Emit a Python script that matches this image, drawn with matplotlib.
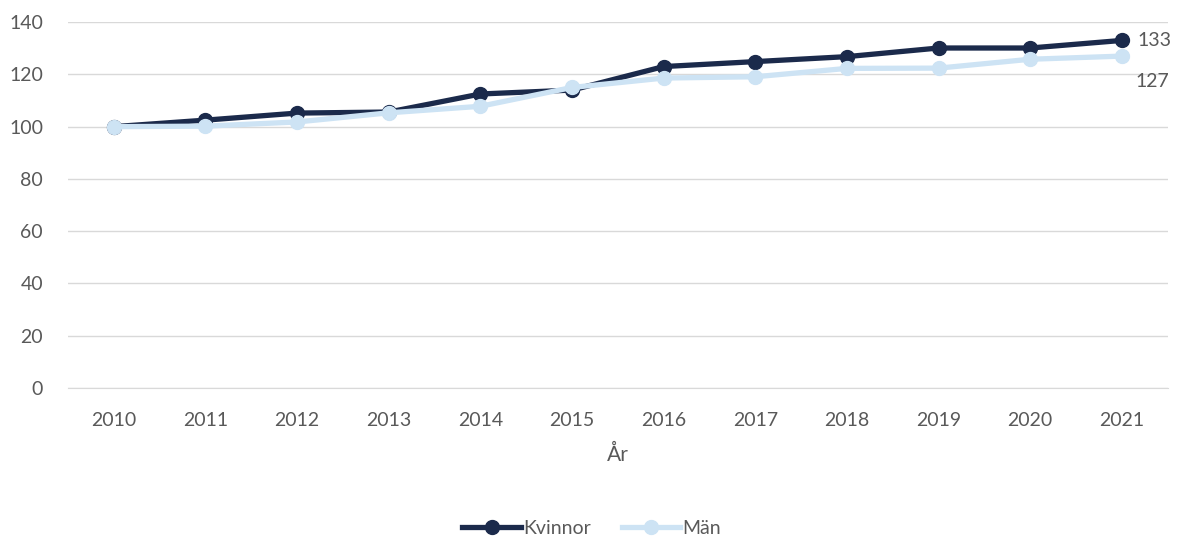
import matplotlib
matplotlib.use("Agg")
import matplotlib.pyplot as plt
from matplotlib.lines import Line2D

years = ["2010", "2011", "2012", "2013", "2014", "2015", "2016", "2017", "2018", "2019", "2020", "2021"]
kvinnor = [100, 102.5, 105.2, 105.6, 112.5, 114, 123, 124.9, 126.8, 130.1, 130.1, 133]
man = [100, 100.2, 101.8, 105.3, 107.8, 115, 118.6, 119.1, 122.3, 122.4, 125.8, 127]

dark = "#1b2a4b"
light = "#cde3f4"
txt = "#595959"

plt.rcParams['font.family'] = ['Lato', 'DejaVu Sans']
fs = 14

fig = plt.figure(figsize=(11.83, 5.40), dpi=100)
ax = fig.add_axes([0.0575, 0.2815, 0.9295, 0.6775])
x = list(range(len(years)))
ax.plot(x, kvinnor, color=dark, lw=3.8, marker='o', ms=10, zorder=3, solid_capstyle='round')
ax.plot(x, man, color=light, lw=3.8, marker='o', ms=10, zorder=4, solid_capstyle='round')

ax.set_xlim(-0.5, len(years) - 0.5)
ax.set_ylim(0, 140)
ax.set_yticks(range(0, 141, 20))
ax.set_xticks(x)
ax.set_xticklabels(years)
ax.grid(axis='y', color='#d9d9d9', lw=1)
ax.set_axisbelow(True)
for s in ['top', 'right', 'left']:
    ax.spines[s].set_visible(False)
ax.spines['bottom'].set_color('#d9d9d9')
ax.tick_params(axis='both', length=0, labelsize=fs, colors=txt)
ax.tick_params(axis='y', pad=18)
ax.tick_params(axis='x', pad=17)
ax.set_xlabel("År", fontsize=15, color=txt, labelpad=12)

ax.annotate(f"{kvinnor[-1]:.0f}", (x[-1], kvinnor[-1]), xytext=(11, 0), textcoords='offset points',
            va='center', ha='left', fontsize=fs, color=txt, annotation_clip=False)
ax.annotate(f"{man[-1]:.0f}", (x[-1], man[-1]), xytext=(10, -18), textcoords='offset points',
            va='center', ha='left', fontsize=fs, color=txt, annotation_clip=False)

handles = [Line2D([], [], color=dark, lw=3.8, marker='o', ms=10),
           Line2D([], [], color=light, lw=3.8, marker='o', ms=10)]
fig.legend(handles, ["Kvinnor", "Män"], loc='center', bbox_to_anchor=(0.5, 0.022), ncol=2,
           frameon=False, fontsize=fs, labelcolor=txt, handlelength=3.0, handletextpad=0.1,
           columnspacing=1.6)

fig.savefig("out.png", dpi=100)
